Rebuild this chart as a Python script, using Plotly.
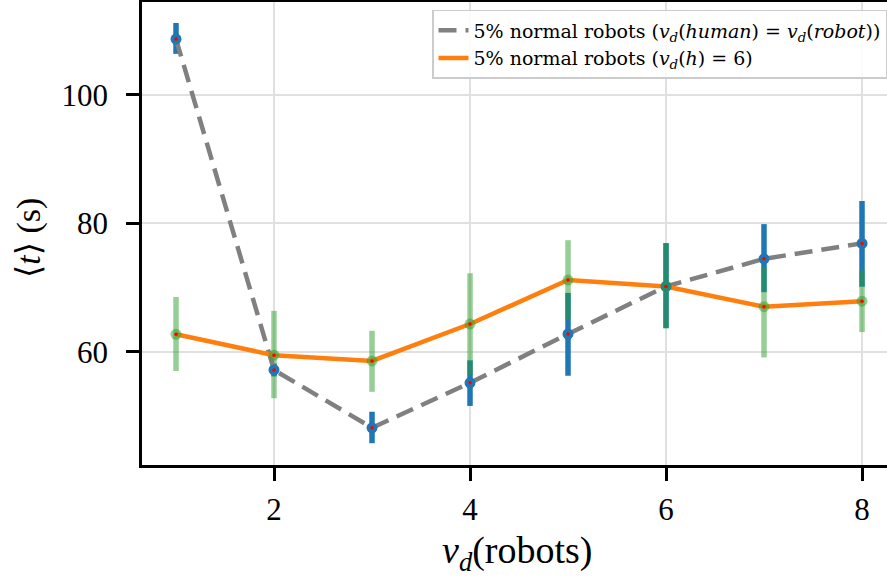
import plotly.graph_objects as go

# ---- data ----
v_robots = [1, 2, 3, 4, 5, 6, 7, 8]

# series 1: v_d(human) = v_d(robot)  (gray dashed, blue error bars)
t_equal = [108.7, 57.2, 48.2, 55.2, 62.8, 70.2, 74.5, 76.9]
t_equal_err_up = [2.5, 1.0, 2.5, 3.5, 6.4, 6.75, 5.4, 6.6]
t_equal_err_down = [2.3, 1.0, 2.4, 3.6, 6.5, 6.5, 5.2, 6.75]

# series 2: v_d(h) = 6  (orange line, green error bars)
t_h6 = [62.75, 59.5, 58.6, 64.35, 71.2, 70.2, 67.05, 67.9]
t_h6_err_up = [5.8, 6.9, 4.7, 7.9, 6.2, 6.75, 6.2, 4.8]
t_h6_err_down = [5.7, 6.7, 4.8, 7.9, 6.1, 6.5, 7.9, 4.8]

x_ticks = [2, 4, 6, 8]
y_ticks = [60, 80, 100]

name_equal = "5% normal robots (<i>v</i><sub><i>d</i></sub>(<i>human</i>) = <i>v</i><sub><i>d</i></sub>(<i>robot</i>))"
name_h6 = "5% normal robots (<i>v</i><sub><i>d</i></sub>(<i>h</i>) = 6)"

BLUE = "#1f77b4"
GREEN_A = "rgba(44,160,44,0.5)"
ORANGE = "#ff7f0e"
GRAY = "#808080"

fig = go.Figure()

# error bars (blue under, translucent green over)
fig.add_trace(go.Scatter(
    x=v_robots, y=t_equal, mode="markers",
    marker=dict(size=1, color="rgba(0,0,0,0)"),
    error_y=dict(type="data", symmetric=False, array=t_equal_err_up,
                 arrayminus=t_equal_err_down, color=BLUE, thickness=5.5, width=0),
    showlegend=False, hoverinfo="skip"))
fig.add_trace(go.Scatter(
    x=v_robots, y=t_h6, mode="markers",
    marker=dict(size=1, color="rgba(0,0,0,0)"),
    error_y=dict(type="data", symmetric=False, array=t_h6_err_up,
                 arrayminus=t_h6_err_down, color=GREEN_A, thickness=5.5, width=0),
    showlegend=False, hoverinfo="skip"))

# lines
fig.add_trace(go.Scatter(
    x=v_robots, y=t_equal, mode="lines", name=name_equal,
    line=dict(color=GRAY, width=4.5, dash="18px,9px")))
fig.add_trace(go.Scatter(
    x=v_robots, y=t_h6, mode="lines", name=name_h6,
    line=dict(color=ORANGE, width=4.5)))

# markers
fig.add_trace(go.Scatter(
    x=v_robots, y=t_equal, mode="markers",
    marker=dict(size=11, color=BLUE, line=dict(width=0)),
    showlegend=False))
fig.add_trace(go.Scatter(
    x=v_robots, y=t_h6, mode="markers",
    marker=dict(size=11, color=GREEN_A, line=dict(width=0)),
    showlegend=False))
fig.add_trace(go.Scatter(
    x=v_robots + v_robots, y=t_equal + t_h6, mode="markers",
    marker=dict(size=3.5, color="red", line=dict(width=0)),
    showlegend=False))

SERIF = "Liberation Serif, DejaVu Serif, serif"
TICKFONT = dict(family=SERIF, size=31, color="black")

fig.update_layout(
    width=887, height=578,
    margin=dict(l=142, r=0, t=2, b=113),
    paper_bgcolor="white", plot_bgcolor="white",
    xaxis=dict(range=[0.653, 8.255], tickvals=x_ticks, ticks="outside",
               ticklen=13, tickwidth=2.5, tickcolor="black",
               showline=True, linewidth=2.5, linecolor="black", mirror=True,
               showgrid=True, gridcolor="#e0e0e0", gridwidth=1.5,
               zeroline=False, tickfont=TICKFONT, ticklabelstandoff=2),
    yaxis=dict(range=[42.41, 114.47], tickvals=y_ticks, ticks="outside",
               ticklen=13, tickwidth=2.5, tickcolor="black",
               showline=True, linewidth=2.5, linecolor="black", mirror=False,
               showgrid=True, gridcolor="#e0e0e0", gridwidth=1.5,
               zeroline=False, tickfont=TICKFONT, ticklabelstandoff=12),
    legend=dict(x=1, xanchor="right", y=0.983, yanchor="top",
                bgcolor="rgba(255,255,255,0.85)", bordercolor="#cccccc", borderwidth=1.5,
                font=dict(family="DejaVu Serif, serif", size=19, color="black"),
                tracegroupgap=0),
    annotations=[
        dict(text="<i>v</i><sub><i>d</i></sub>(robots)", xref="paper", yref="paper",
             x=(517 - 142) / 745, y=(465 - 553) / 463, xanchor="center", yanchor="middle",
             showarrow=False, font=dict(family=SERIF, size=38, color="black")),
        dict(text="⟨<i>t</i>⟩ (s)", xref="paper", yref="paper",
             x=(29 - 142) / 745, y=(465 - 238) / 463, xanchor="center", yanchor="middle",
             textangle=-90, showarrow=False,
             font=dict(family=SERIF, size=34, color="black")),
    ],
)

fig.write_html("out.html", config={"displayModeBar": False},
               post_script="document.body.style.margin='0';")
